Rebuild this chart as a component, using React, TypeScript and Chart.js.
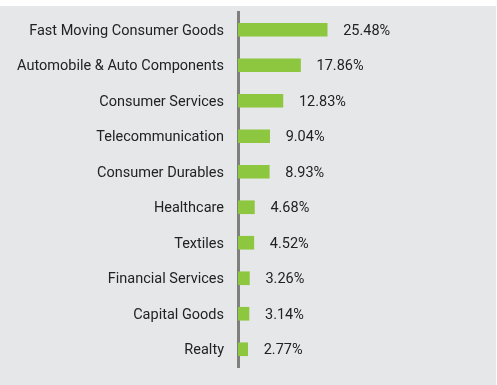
import React, { useEffect, useRef } from "react";
import { Chart, registerables } from "chart.js";

Chart.register(...registerables);

const categories = [
  "Fast Moving Consumer Goods",
  "Automobile & Auto Components",
  "Consumer Services",
  "Telecommunication",
  "Consumer Durables",
  "Healthcare",
  "Textiles",
  "Financial Services",
  "Capital Goods",
  "Realty",
];
const weights = [25.48, 17.86, 12.83, 9.04, 8.93, 4.68, 4.52, 3.26, 3.14, 2.77];

const valueLabels = {
  id: "valueLabels",
  afterDatasetsDraw(chart: any) {
    const ctx = chart.ctx;
    const meta = chart.getDatasetMeta(0);
    ctx.save();
    ctx.font = "14.5px Roboto";
    ctx.fillStyle = "#222222";
    ctx.textAlign = "left";
    ctx.textBaseline = "middle";
    meta.data.forEach((bar: any, i: number) => {
      ctx.fillText(weights[i].toFixed(2) + "%", bar.x + 16, bar.y + 1.5);
    });
    ctx.restore();
  },
};

export default function App() {
  const ref = useRef<HTMLCanvasElement>(null);
  useEffect(() => {
    if (!ref.current) return;
    const chart = new Chart(ref.current, {
      type: "bar",
      data: {
        labels: categories,
        datasets: [
          {
            data: weights,
            backgroundColor: "#8dc63f",
            borderWidth: 0,
            barThickness: 13,
          },
        ],
      },
      options: {
        indexAxis: "y",
        responsive: false,
        animation: false,
        devicePixelRatio: 1,
        layout: { padding: { top: 6, bottom: 18, right: 13, left: 0 } },
        plugins: {
          legend: { display: false },
          tooltip: { enabled: false },
        },
        scales: {
          x: { display: false, min: 0, max: 70 },
          y: {
            z: 1,
            afterFit: (scale: any) => {
              scale.width = 238;
              scale.paddingTop = 0;
              scale.paddingBottom = 0;
            },
            grid: { display: false, drawTicks: false },
            border: { display: true, color: "#7f7f7f", width: 3 },
            ticks: {
              padding: 14,
              labelOffset: 1.5,
              color: "#222222",
              font: { family: "Roboto", size: 14.5 },
            },
          },
        },
      },
      plugins: [valueLabels],
    });
    return () => chart.destroy();
  }, []);
  return (
    <div
      style={{
        position: "fixed",
        left: 0,
        top: 0,
        width: 497,
        height: 385,
        background: "#ffffff",
      }}
    >
      <canvas
        ref={ref}
        width={496}
        height={379}
        style={{
          position: "absolute",
          left: 0,
          top: 6,
          width: 496,
          height: 379,
          background: "#e6e7e8",
        }}
      />
    </div>
  );
}
